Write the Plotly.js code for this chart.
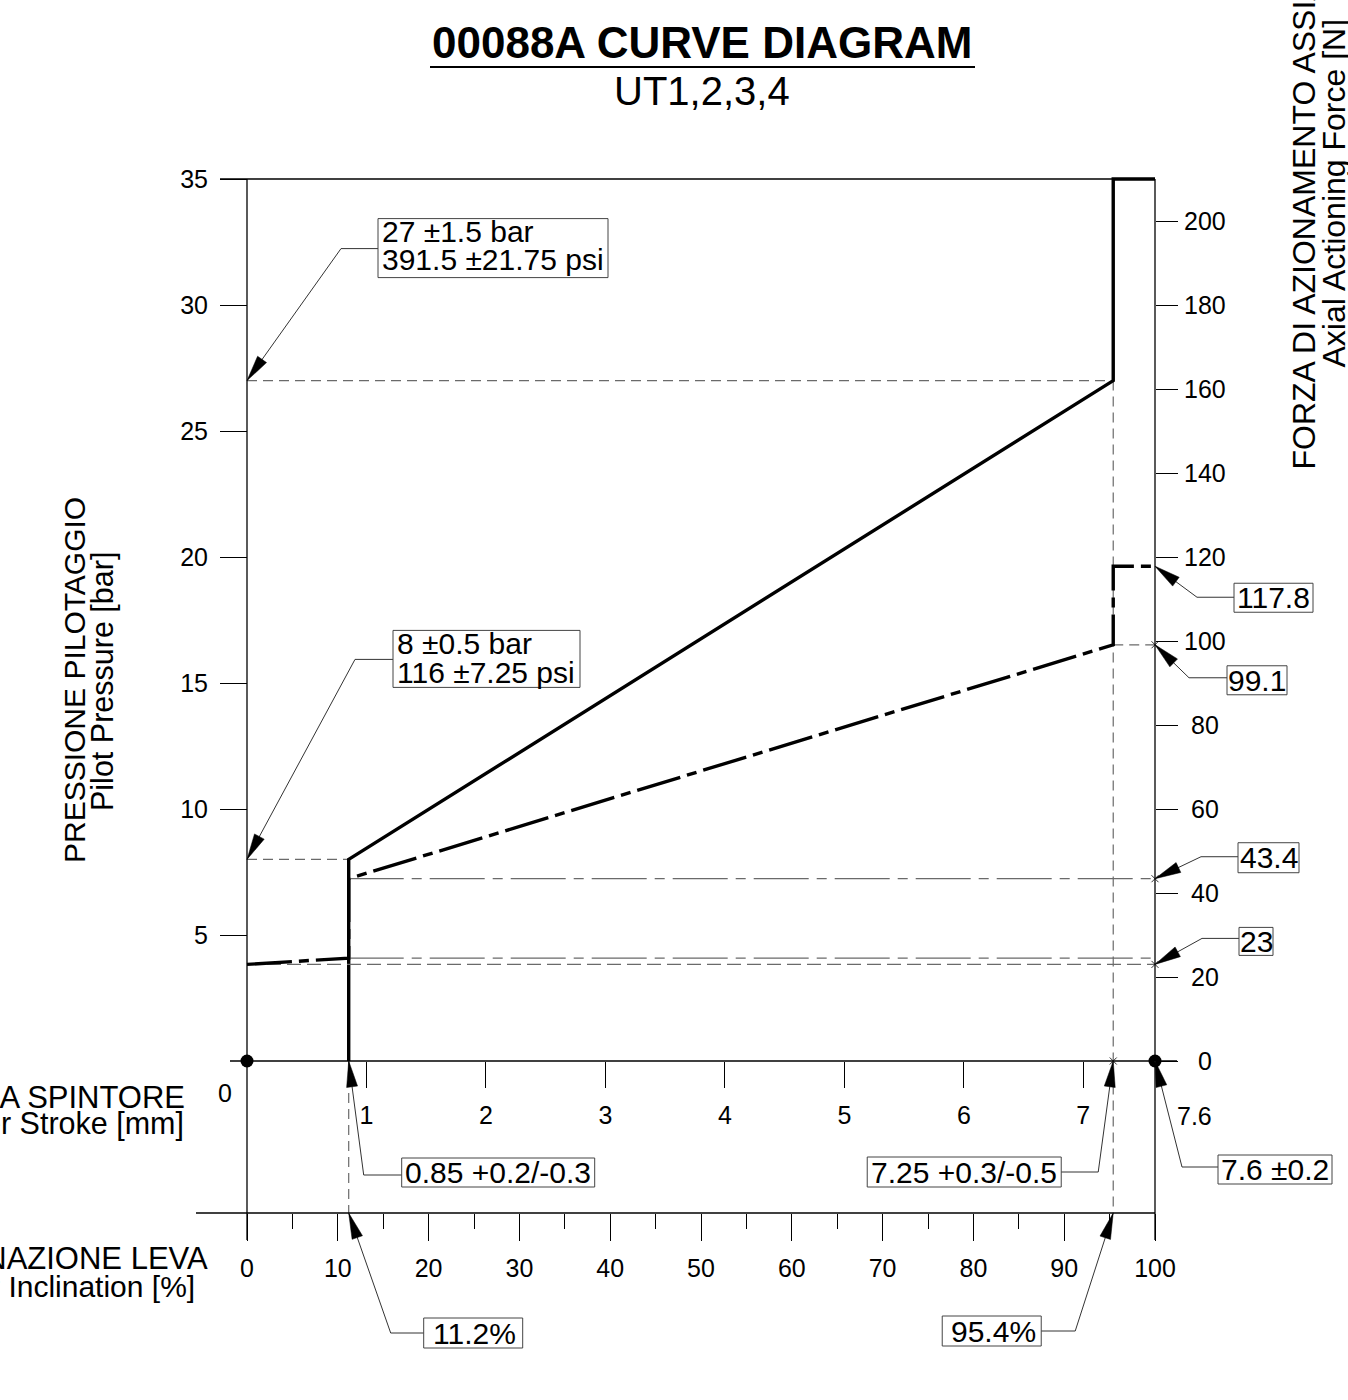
<!DOCTYPE html>
<html>
<head>
<meta charset="utf-8">
<script src="https://cdn.plot.ly/plotly-3.0.1.min.js"></script>
<style>html,body{margin:0;padding:0;background:#fff}</style>
</head>
<body>
<div id="chart" style="width:1348px;height:1400px"></div>
<script>
// ---------------- data ----------------
const pressMax = 35;            // left axis max [bar]
const forceMax = 210;           // right axis max [N]
const pctMax = 100;             // lever inclination [%]
const strokeMax = 7.6;          // plunger stroke [mm]

const pressX = [11.2, 11.2, 95.4, 95.4, 100];
const pressY = [0, 8, 27, 35, 35];               // bar
const forceX = [0, 11.2, 11.2, 95.4, 95.4, 100];
const forceY = [23, 24.5, 43.4, 99.1, 117.8, 117.8]; // N

const pctStart = 11.2, pctEnd = 95.4;
const pressLow = 8, pressHigh = 27;
const forceStart = 23, forceKnee = 24.5, forceLow = 43.4, forceHigh = 99.1, forceTop = 117.8;

const leftTicks = [5, 10, 15, 20, 25, 30, 35];
const rightTicks = [0, 20, 40, 60, 80, 100, 120, 140, 160, 180, 200];
const pctTicks = [0, 10, 20, 30, 40, 50, 60, 70, 80, 90, 100];
const pctMinorTicks = [5, 15, 25, 35, 45, 55, 65, 75, 85, 95];
const strokeTicks = [1, 2, 3, 4, 5, 6, 7];

const calloutTexts = {
  p27: ['27 ±1.5 bar', '391.5 ±21.75 psi'],
  p8: ['8 ±0.5 bar', '116 ±7.25 psi'],
  f117: ['117.8'], f99: ['99.1'], f43: ['43.4'], f23: ['23'],
  s085: ['0.85 +0.2/-0.3'], s725: ['7.25 +0.3/-0.5'], s76: ['7.6 ±0.2'],
  i112: ['11.2%'], i954: ['95.4%']
};

// ---------------- layout geometry (pixels) ----------------
const W = 1348, H = 1400;
const PX = { x0: 247, x100: 1155, y0: 1061, yTop: 179, yPct: 1213, yEnd: 1240 };
const FONT = 'Liberation Sans, Arial, Helvetica, sans-serif';
const nPerBar = forceMax / pressMax;
const pctAt = px => (px - PX.x0) * pctMax / (PX.x100 - PX.x0);
const barAt = py => (PX.y0 - py) * pressMax / (PX.y0 - PX.yTop);
const mmAt = px => (px - PX.x0) * strokeMax / (PX.x100 - PX.x0);
const paperX = px => px / W;
const paperY = py => 1 - py / H;
const yPctBar = barAt(PX.yPct);

const thin = '#6a6a6a';
const DASH = '10px,6px';
const DASHDOT = '55px,8px,10px,8px';

// ---------------- traces ----------------
function ref(x, y, yaxis, dash) {
  return { x: x, y: y, yaxis: yaxis, xaxis: 'x', mode: 'lines', hoverinfo: 'skip',
           line: { color: thin, width: 1.2, dash: dash } };
}
const traces = [
  ref([0, pctEnd], [pressHigh, pressHigh], 'y', DASH),
  ref([0, pctStart], [pressLow, pressLow], 'y', DASH),
  ref([0, pctMax], [forceStart, forceStart], 'y2', '14px,6px'),
  ref([pctStart, pctMax], [forceKnee, forceKnee], 'y2', DASHDOT),
  ref([pctStart, pctMax], [forceLow, forceLow], 'y2', DASHDOT),
  ref([pctEnd, pctMax], [forceHigh, forceHigh], 'y2', DASH),
  ref([pctStart, pctStart], [0, yPctBar], 'y', DASH),
  ref([pctEnd, pctEnd], [pressHigh, yPctBar], 'y', DASH),
  { name: 'Force', x: forceX, y: forceY, xaxis: 'x', yaxis: 'y2', mode: 'lines', hoverinfo: 'skip',
    line: { color: '#000', width: 3.4, dash: '45px,7px,10px,7px' } },
  { name: 'Pressure', x: pressX, y: pressY, xaxis: 'x', yaxis: 'y', mode: 'lines', hoverinfo: 'skip',
    line: { color: '#000', width: 3.4 } },
  { x: [0, pctMax], y: [0, 0], xaxis: 'x', yaxis: 'y', mode: 'markers', hoverinfo: 'skip',
    marker: { color: '#000', size: 13 } },
  { x: [pctMax, pctMax, pctMax], y: [forceHigh, forceLow, forceStart], xaxis: 'x', yaxis: 'y2',
    mode: 'markers', hoverinfo: 'skip',
    marker: { symbol: 'x-thin', size: 7, line: { color: '#333', width: 1 } } },
  { x: [pctEnd], y: [0], xaxis: 'x', yaxis: 'y', mode: 'markers', hoverinfo: 'skip',
    marker: { symbol: 'x-thin', size: 7, line: { color: '#333', width: 1 } } },
  // anchors for the stroke and minor-tick axes
  { x: [strokeTicks[0]], y: [0], xaxis: 'x2', yaxis: 'y', mode: 'markers', hoverinfo: 'skip',
    marker: { opacity: 0 } },
  { x: [pctMinorTicks[0]], y: [0], xaxis: 'x3', yaxis: 'y', mode: 'markers', hoverinfo: 'skip',
    marker: { opacity: 0 } }
];

// ---------------- shapes ----------------
const shapes = [];
const annotations = [];
function axLine(x0, y0, x1, y1, w) {
  shapes.push({ type: 'line', xref: 'x', yref: 'y', x0: x0, y0: y0, x1: x1, y1: y1,
                line: { color: '#000', width: w || 1.3 } });
}
axLine(0, barAt(PX.yEnd), 0, pressMax);
axLine(pctMax, barAt(PX.yEnd), pctMax, pressMax);
axLine(pctAt(220), pressMax, pctMax, pressMax);
axLine(pctAt(230), 0, pctAt(1177), 0);
axLine(pctAt(196), yPctBar, pctMax, yPctBar);

// callouts: offsets in screen px relative to the arrow tip (y downward)
const callouts = [
  { xr: 'x', yr: 'y', x: 0, y: pressHigh, elbow: [94, -132], end: [131, -132], box: [131, 361, -162, -103],
    texts: calloutTexts.p27, tx: 133, ty: [-149, -121], align: 'left' },
  { xr: 'x', yr: 'y', x: 0, y: pressLow, elbow: [108, -200], end: [146, -200], box: [146, 333, -229, -172],
    texts: calloutTexts.p8, tx: 148, ty: [-216, -187], align: 'left' },
  { xr: 'x', yr: 'y2', x: pctMax, y: forceTop, elbow: [42, 31], end: [79, 31], box: [79, 158, 17, 46],
    texts: calloutTexts.f117, tx: 118.5, ty: [31.5], align: 'center' },
  { xr: 'x', yr: 'y2', x: pctMax, y: forceHigh, elbow: [34, 33], end: [72, 33], box: [72, 132, 21, 50],
    texts: calloutTexts.f99, tx: 102, ty: [35.5], align: 'center' },
  { xr: 'x', yr: 'y2', x: pctMax, y: forceLow, elbow: [46, -22], end: [83, -22], box: [83, 144, -36, -6],
    texts: calloutTexts.f43, tx: 113.5, ty: [-21], align: 'center' },
  { xr: 'x', yr: 'y2', x: pctMax, y: forceStart, elbow: [47, -26], end: [84, -26], box: [84, 118, -37, -9],
    texts: calloutTexts.f23, tx: 101, ty: [-23], align: 'center' },
  { xr: 'x', yr: 'y', x: pctStart, y: 0, elbow: [15, 114], end: [53, 114], box: [53, 246, 97, 126],
    texts: calloutTexts.s085, tx: 149.5, ty: [111.5], align: 'center' },
  { xr: 'x', yr: 'y', x: pctEnd, y: 0, elbow: [-15, 111], end: [-52, 111], box: [-246, -52, 96, 126],
    texts: calloutTexts.s725, tx: -149, ty: [111], align: 'center' },
  { xr: 'x', yr: 'y', x: pctMax, y: 0, elbow: [27, 106], end: [63, 106], box: [63, 177, 94, 123],
    texts: calloutTexts.s76, tx: 120, ty: [108.5], align: 'center' },
  { xr: 'x', yr: 'y', x: pctStart, y: yPctBar, elbow: [42, 120], end: [75, 120], box: [75, 174, 105, 135],
    texts: calloutTexts.i112, tx: 126, ty: [120], align: 'center' },
  { xr: 'x', yr: 'y', x: pctEnd, y: yPctBar, elbow: [-38, 118], end: [-72, 118], box: [-171, -72, 103, 133],
    texts: calloutTexts.i954, tx: -120, ty: [118], align: 'center' }
];

callouts.forEach(c => {
  const base = { xref: c.xr, yref: c.yr, xsizemode: 'pixel', ysizemode: 'pixel', xanchor: c.x, yanchor: c.y };
  shapes.push(Object.assign({}, base, { type: 'path',
    path: `M 0 0 L ${c.elbow[0]} ${-c.elbow[1]} L ${c.end[0]} ${-c.end[1]}`,
    line: { color: '#333', width: 1 }, fillcolor: 'rgba(0,0,0,0)' }));
  const len = Math.hypot(c.elbow[0], c.elbow[1]);
  const ux = c.elbow[0] / len, uy = c.elbow[1] / len;
  const L = 26, hw = 5.5;
  const bx = ux * L, by = uy * L;
  const p1 = [bx - uy * hw, by + ux * hw], p2 = [bx + uy * hw, by - ux * hw];
  shapes.push(Object.assign({}, base, { type: 'path',
    path: `M 0 0 L ${p1[0].toFixed(2)} ${(-p1[1]).toFixed(2)} L ${p2[0].toFixed(2)} ${(-p2[1]).toFixed(2)} Z`,
    line: { color: '#000', width: 0.5 }, fillcolor: '#000' }));
  shapes.push(Object.assign({}, base, { type: 'rect',
    x0: c.box[0], x1: c.box[1], y0: -c.box[2], y1: -c.box[3],
    line: { color: '#444', width: 1 }, fillcolor: 'rgba(0,0,0,0)' }));
  c.texts.forEach((t, i) => {
    annotations.push({ xref: c.xr, yref: c.yr, x: c.x, y: c.y, xshift: c.tx, yshift: -c.ty[i],
      text: t, showarrow: false, xanchor: c.align, yanchor: 'middle',
      font: { family: FONT, size: 30, color: '#000' } });
  });
});

// underline of the title
shapes.push({ type: 'line', xref: 'paper', yref: 'paper', x0: paperX(430), x1: paperX(975),
              y0: paperY(67), y1: paperY(67), line: { color: '#000', width: 2 } });

function txt(text, px, py, size, opts) {
  annotations.push(Object.assign({ xref: 'paper', yref: 'paper', x: paperX(px), y: paperY(py), text: text,
    showarrow: false, xanchor: 'center', yanchor: 'middle',
    font: { family: FONT, size: size, color: '#000' } }, opts || {}));
}
txt('<b>00088A CURVE DIAGRAM</b>', 702, 43, 44);
txt('UT1,2,3,4', 702, 91, 40);
txt('PRESSIONE PILOTAGGIO', 74, 680, 30, { textangle: -90 });
txt('Pilot Pressure [bar]', 103, 682, 30.5, { textangle: -90 });
txt('FORZA DI AZIONAMENTO ASSIALE', 1303, 472, 32, { textangle: -90, yanchor: 'bottom' });
txt('Axial Actioning Force [N]', 1334, 370, 32, { textangle: -90, yanchor: 'bottom' });
txt('CORSA SPINTORE', 187, 1097, 31, { xanchor: 'right' });
txt('Plunger Stroke [mm]', 186, 1123, 30.5, { xanchor: 'right' });
txt('INCLINAZIONE LEVA', 210, 1258, 31, { xanchor: 'right' });
txt('Lever Inclination [%]', 197, 1286, 30, { xanchor: 'right' });

// stroke end labels (0 and 7.6 mm)
annotations.push({ xref: 'x2', yref: 'y', x: 0, y: 0, xshift: -22, yshift: -32, text: '0', showarrow: false,
  xanchor: 'center', yanchor: 'middle', font: { family: FONT, size: 25, color: '#000' } });
annotations.push({ xref: 'x2', yref: 'y', x: strokeMax, y: 0, xshift: 39, yshift: -55, text: String(strokeMax),
  showarrow: false, xanchor: 'center', yanchor: 'middle', font: { family: FONT, size: 25, color: '#000' } });

// right-axis tick labels, centred like the drawing
rightTicks.forEach(v => {
  annotations.push({ xref: 'x', yref: 'y2', x: pctMax, y: v, xshift: 50, text: String(v), showarrow: false,
    xanchor: 'center', yanchor: 'middle', font: { family: FONT, size: 25, color: '#000' } });
});

// ---------------- axes ----------------
const tickFont = { family: FONT, size: 25, color: '#000' };
const common = { showgrid: false, zeroline: false, showline: false, ticks: 'outside', tickwidth: 1,
                 tickcolor: '#000', tickfont: tickFont, fixedrange: true, tickmode: 'array' };

const layout = {
  width: W, height: H, margin: { l: 0, r: 0, t: 0, b: 0, pad: 0 },
  paper_bgcolor: '#fff', plot_bgcolor: 'rgba(0,0,0,0)', showlegend: false,
  xaxis: Object.assign({}, common, { range: [pctAt(0), pctAt(W)], anchor: 'free', position: paperY(PX.yPct),
    side: 'bottom', tickvals: pctTicks, ticktext: pctTicks.map(String), ticklen: 27, ticklabelstandoff: 6 }),
  xaxis2: Object.assign({}, common, { overlaying: 'x', range: [mmAt(0), mmAt(W)], anchor: 'free',
    position: paperY(PX.y0), side: 'bottom', tickvals: strokeTicks, ticktext: strokeTicks.map(String),
    ticklen: 26, ticklabelstandoff: 6 }),
  xaxis3: Object.assign({}, common, { overlaying: 'x', range: [pctAt(0), pctAt(W)], anchor: 'free',
    position: paperY(PX.yPct), side: 'bottom', tickvals: pctMinorTicks, ticklen: 15, showticklabels: false }),
  yaxis: Object.assign({}, common, { range: [barAt(H), barAt(0)], anchor: 'free', position: paperX(PX.x0),
    side: 'left', tickvals: leftTicks, ticktext: leftTicks.map(String), ticklen: 27, ticklabelstandoff: 7 }),
  yaxis2: Object.assign({}, common, { overlaying: 'y', range: [barAt(H) * nPerBar, barAt(0) * nPerBar],
    anchor: 'free', position: paperX(PX.x100), side: 'right', tickvals: rightTicks,
    showticklabels: false, ticklen: 22 }),
  shapes: shapes,
  annotations: annotations
};

Plotly.newPlot('chart', traces, layout, { staticPlot: true, displayModeBar: false });
</script>
</body>
</html>
